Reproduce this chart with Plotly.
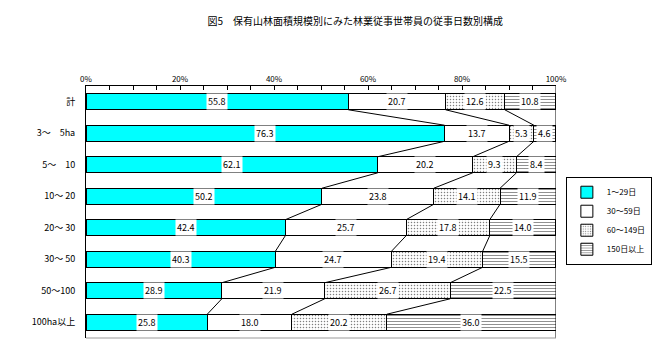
import plotly.graph_objects as go

categories = ["計", "3～　5ha", "5～　10", "10～ 20", "20～ 30", "30～ 50", "50～100", "100ha以上"]
series_names = ["1～29日", "30～59日", "60～149日", "150日以上"]
v1 = [55.8, 76.3, 62.1, 50.2, 42.4, 40.3, 28.9, 25.8]
v2 = [20.7, 13.7, 20.2, 23.8, 25.7, 24.7, 21.9, 18.0]
v3 = [12.6, 5.3, 9.3, 14.1, 17.8, 19.4, 26.7, 20.2]
v4 = [10.8, 4.6, 8.4, 11.9, 14.0, 15.5, 22.5, 36.0]
tick_vals = [0, 20, 40, 60, 80, 100]
tick_text = ["0%", "20%", "40%", "60%", "80%", "100%"]

series = [v1, v2, v3, v4]
ypos = list(range(len(categories)))
BW = 0.51
FONT = "Noto Sans CJK JP"

styles = [
    dict(color="#00FFFF"),
    dict(color="#FFFFFF"),
    dict(color="#FFFFFF", pattern=dict(shape=".", size=3, solidity=0.2, fgcolor="#000000", bgcolor="#FFFFFF")),
    dict(color="#FFFFFF", pattern=dict(shape="-", size=3, solidity=0.34, fgcolor="#222222", bgcolor="#FFFFFF")),
]

fig = go.Figure()
for name, vals, st in zip(series_names, series, styles):
    fig.add_trace(go.Bar(
        y=ypos, x=vals, name=name, orientation="h", width=BW,
        marker=dict(line=dict(color="#000000", width=1), **st),
    ))

# cumulative boundaries
cums = []
for i in range(len(categories)):
    c = 0
    row = []
    for s in series:
        c += s[i]
        row.append(c)
    cums.append(row)

# labels
for i in range(len(categories)):
    start = 0
    for s in series:
        v = s[i]
        fig.add_annotation(x=start + v / 2, y=i, xref="x", yref="y", text=f"{v:.1f}",
                           showarrow=False, bgcolor="#FFFFFF", borderpad=1,
                           font=dict(family=FONT, size=9, color="#000000"))
        start += v

# series lines
for i in range(len(categories) - 1):
    for k in range(3):
        fig.add_shape(type="line", xref="x", yref="y",
                      x0=cums[i][k], y0=i + BW / 2, x1=cums[i + 1][k], y1=i + 1 - BW / 2,
                      line=dict(color="#000000", width=1))

fig.update_layout(
    width=658, height=352,
    margin=dict(l=86, r=102, t=86, b=14, autoexpand=False),
    paper_bgcolor="#FFFFFF", plot_bgcolor="#FFFFFF",
    barmode="stack",
    bargap=0.49,
    showlegend=True,
    font=dict(family=FONT, size=9, color="#000000"),
    legend=dict(x=1.021, y=0.64, xanchor="left", yanchor="top",
                bordercolor="#000000", borderwidth=1, bgcolor="#FFFFFF",
                font=dict(family=FONT, size=8), traceorder="normal",
                itemwidth=30, tracegroupgap=0),
    title=dict(text="図5　保有山林面積規模別にみた林業従事世帯員の従事日数別構成",
               x=0.54, xanchor="center", y=0.94, yanchor="middle",
               font=dict(family=FONT, size=10, color="#000000")),
    xaxis=dict(range=[0, 100], side="top", tickvals=tick_vals, ticktext=tick_text,
               showgrid=False, zeroline=False, showline=True, linecolor="#000000", linewidth=1,
               mirror=False, ticks="inside", ticklen=4, tickcolor="#000000",
               minor=dict(dtick=5, ticks="inside", ticklen=4, tickcolor="#000000"),
               tickfont=dict(family=FONT, size=8), fixedrange=True),
    yaxis=dict(range=[7.5, -0.5], tickvals=ypos, ticktext=categories,
               showgrid=False, zeroline=False, showline=True, linecolor="#000000", linewidth=1,
               ticks="", ticklabelstandoff=8,
               tickfont=dict(family=FONT, size=9), fixedrange=True),
)
# right border and bottom border of plot area
fig.add_shape(type="line", xref="x", yref="paper", x0=100, x1=100, y0=0, y1=1,
              line=dict(color="#000000", width=1))
fig.add_shape(type="line", xref="paper", yref="paper", x0=0, x1=1, y0=0, y1=0,
              line=dict(color="#999999", width=1))

fig.write_html("out.html")
